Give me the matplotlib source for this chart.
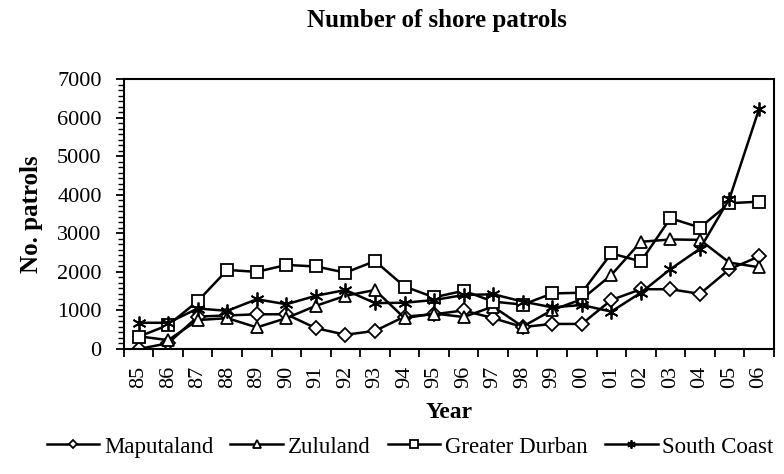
import matplotlib
matplotlib.use("Agg")
import matplotlib.pyplot as plt
from matplotlib.ticker import MultipleLocator
import numpy as np

plt.rcParams['font.family'] = ['Liberation Serif', 'DejaVu Serif']

anos = ["85", "86", "87", "88", "89", "90", "91", "92", "93", "94", "95",
        "96", "97", "98", "99", "00", "01", "02", "03", "04", "05", "06"]

maputaland = [0, 150, 840, 870, 900, 900, 540, 370, 470, 840, 900,
              1000, 800, 570, 650, 650, 1270, 1550, 1550, 1430, 2070, 2400]
zululand = [330, 230, 750, 800, 560, 800, 1120, 1380, 1530, 800, 920,
            830, 1100, 580, 1010, 1290, 1920, 2780, 2840, 2830, 2240, 2120]
greater_durban = [320, 620, 1240, 2050, 2000, 2180, 2140, 1980, 2280, 1620, 1340,
                  1510, 1230, 1150, 1440, 1460, 2480, 2270, 3390, 3150, 3780, 3820]
south_coast = [680, 680, 1050, 990, 1290, 1160, 1380, 1530, 1190, 1200, 1270,
               1400, 1420, 1230, 1080, 1140, 970, 1460, 2070, 2600, 3900, 6220]

series = [("Maputaland", maputaland, "D", 7),
          ("Zululand", zululand, "^", 9),
          ("Greater Durban", greater_durban, "s", 9),
          ("South Coast", south_coast, (6, 2, 0), 10)]

fig = plt.figure(figsize=(7.84, 4.74), dpi=100)
ax = fig.add_axes([0.158, 0.2637, 0.829, 0.5696])

x = np.arange(len(anos))
for nome, vals, mk, ms in series:
    ax.plot(x, vals, color="k", lw=1.8, marker=mk, ms=ms, mfc="white",
            mec="k", mew=1.3, label=nome)

ax.set_xlim(-0.5, len(anos) - 0.5)
ax.set_ylim(0, 7000)

ax.set_xticks(x)
ax.set_xticklabels(anos, rotation=90, fontsize=16)
ax.set_xticks(np.arange(len(anos) + 1) - 0.5, minor=True)
ax.tick_params(axis="x", which="major", length=0, pad=12)
ax.tick_params(axis="x", which="minor", length=6, width=1.3, direction="out")

ax.yaxis.set_major_locator(MultipleLocator(1000))
ax.yaxis.set_minor_locator(MultipleLocator(1000 / 7))
ax.tick_params(axis="y", which="major", length=6, width=1.3, labelsize=16, pad=10)
ax.tick_params(axis="y", which="minor", length=4, width=1.0)

for sp in ax.spines.values():
    sp.set_linewidth(1.5)

ax.set_xlabel("Year", fontsize=17, fontweight="bold", labelpad=10)
ax.set_ylabel("No. patrols", fontsize=18, fontweight="bold", labelpad=10)

fig.text(0.557, 0.982, "Number of shore patrols", ha="center", va="top",
         fontsize=18, fontweight="bold")

fig.legend(loc="center", bbox_to_anchor=(0.523, 0.057), ncol=4, frameon=False,
           fontsize=16.5, handlelength=2.3, handletextpad=0.2, columnspacing=0.75,
           markerscale=0.6)

plt.savefig("out.png", dpi=100)
